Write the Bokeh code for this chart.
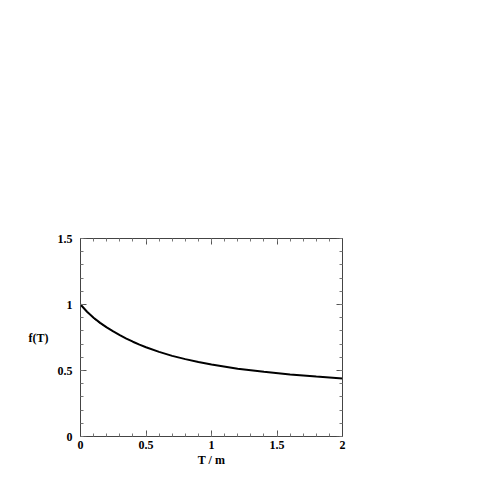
from bokeh.plotting import figure
from bokeh.models import FixedTicker, LinearAxis, CustomJSTickFormatter, Range1d
from bokeh.embed import file_html
from bokeh.resources import INLINE

# data
t_vals = [0.0, 0.05, 0.1, 0.15, 0.2, 0.25, 0.3, 0.35, 0.4, 0.45, 0.5, 0.6, 0.7, 0.8, 0.9, 1.0, 1.2, 1.4, 1.6, 1.8, 2.0]
f_vals = [1.0, 0.945, 0.90, 0.861, 0.827, 0.796, 0.768, 0.742, 0.718, 0.696, 0.676, 0.641, 0.611, 0.586, 0.564, 0.545, 0.514, 0.49, 0.47, 0.454, 0.44]
t_thin = [0.0, 0.05, 0.1, 0.15, 0.2]
f_thin = [1.0, 0.942, 0.895, 0.858, 0.826]
x_ticks = [0, 0.5, 1, 1.5, 2]
y_ticks = [0, 0.5, 1, 1.5]
x_minor = [i / 10 for i in range(0, 21)]
y_minor = [i / 10 for i in range(0, 16)]

FONT = "Liberation Serif"

p = figure(width=475, height=475, output_backend="svg", toolbar_location=None,
           x_range=Range1d(0, 2), y_range=Range1d(0, 1.5),
           min_border_left=80, min_border_right=133, min_border_top=238, min_border_bottom=39,
           x_axis_label="T / m", y_axis_label="f(T)")
p.xgrid.visible = False
p.ygrid.visible = False
p.outline_line_color = "#444444"
p.outline_line_width = 1

p.line(t_vals, f_vals, line_color="black", line_width=2)
p.line(t_thin, f_thin, line_color="black", line_width=1)

fmt = CustomJSTickFormatter(code="return tick.toString();")
blank = CustomJSTickFormatter(code="return '';")

def style(ax, ticks, minor, labels=True):
    ax.ticker = FixedTicker(ticks=ticks, minor_ticks=minor)
    ax.major_tick_in = 6
    ax.major_tick_out = 0
    ax.minor_tick_in = 3
    ax.minor_tick_out = 0
    ax.major_tick_line_color = "#555555"
    ax.minor_tick_line_color = "#777777"
    ax.axis_line_color = "#444444"
    ax.major_label_text_font = FONT
    ax.major_label_text_font_style = "bold"
    ax.major_label_text_font_size = "12px"
    ax.major_label_text_color = "black"
    ax.axis_label_text_font = FONT
    ax.axis_label_text_font_style = "bold"
    ax.axis_label_text_font_size = "12px"
    ax.axis_label_text_color = "black"
    ax.formatter = fmt if labels else blank
    if not labels:
        ax.major_label_standoff = 0

style(p.xaxis[0], x_ticks, x_minor)
style(p.yaxis[0], y_ticks, y_minor)
p.xaxis[0].axis_label_standoff = 1
p.xaxis[0].major_label_standoff = 4
p.yaxis[0].major_label_standoff = 8
p.yaxis[0].axis_label_orientation = "horizontal"
p.yaxis[0].axis_label_standoff = 6

top = LinearAxis()
style(top, x_ticks, x_minor, labels=False)
p.add_layout(top, "above")
right = LinearAxis()
style(right, y_ticks, y_minor, labels=False)
p.add_layout(right, "right")

open("out.html", "w").write(file_html(p, INLINE))
